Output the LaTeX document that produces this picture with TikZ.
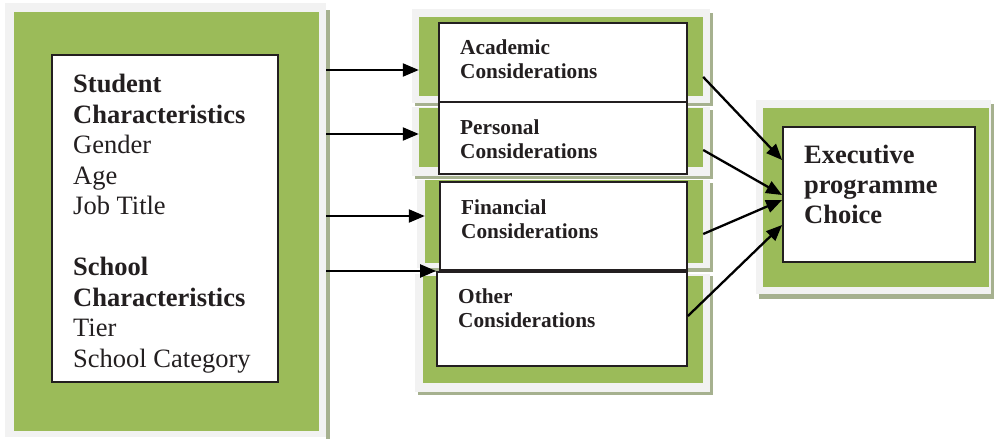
\documentclass[tikz,border=0pt]{standalone}
\usepackage{fontspec}
\setmainfont{Liberation Serif}
\usetikzlibrary{arrows.meta,fit}
\definecolor{panelgreen}{RGB}{155,187,89}
\definecolor{framegray}{RGB}{242,242,242}
\definecolor{shadowolive}{RGB}{166,177,143}
\definecolor{inkdark}{RGB}{35,31,32}

\begin{document}
\begin{tikzpicture}[x=1pt,y=-1pt,
    frame/.style={fill=framegray, inner sep=0pt},
    panel/.style={fill=panelgreen, inner sep=0pt},
    card/.style={draw=inkdark, line width=1.8pt, fill=white, inner sep=0pt},
    bigtext/.style={font=\fontsize{26.5}{30.5}\selectfont, text=inkdark, align=left, anchor=base west, inner sep=0pt},
    smalltext/.style={font=\bfseries\fontsize{21.3}{24}\selectfont, text=inkdark, align=left, anchor=base west, inner sep=0pt},
    arr/.style={line width=2.3pt, -{Triangle[length=16pt,width=13pt]}}]
  \useasboundingbox (0,0) rectangle (994,439);

  % Student / school block
  \fill[shadowolive] (326,10) rectangle (329.5,439);
  \node[frame, fit={(5,3)(326,437)}] (stuf) {};
  \node[panel, fit={(14,12)(319,431)}] (stug) {};
  \node[card, fit={(52,55)(278,382)}] (stuc) {};
  % (base = last line)
  \node[bigtext] (stut) at (73,367) {\textbf{Student}\\ \textbf{Characteristics}\\ Gender\\ Age\\ Job Title\\[30.5pt] \textbf{School}\\ \textbf{Characteristics}\\ Tier\\ School Category};

  % Academic
  \fill[shadowolive] (415,13) rectangle (713,106);
  \node[frame, fit={(412,9)(710,103)}] (acaf) {};
  \node[panel, fit={(419,17)(703,96)}] (acag) {};
  % Personal
  \fill[shadowolive] (415,110) rectangle (713,179);
  \node[frame, fit={(412,107)(710,176)}] (perf) {};
  \node[panel, fit={(419,108)(703,167)}] (perg) {};
  % Financial
  \fill[shadowolive] (420,183) rectangle (713,272);
  \node[frame, fit={(417,180)(710,268)}] (finf) {};
  \node[panel, fit={(425,180)(703,263)}] (fing) {};
  % Other
  \fill[shadowolive] (418,276) rectangle (713,395);
  \node[frame, fit={(415,274)(710,392)}] (othf) {};
  \node[panel, fit={(423,276)(703,383)}] (othg) {};

  % Consideration cards
  \node[card, fit={(439,23)(687,102)}] (acac) {};
  \node[card, fit={(439,102)(687,174)}] (perc) {};
  \node[card, fit={(440,182)(687,270)}] (finc) {};
  \node[card, fit={(437,272)(687,366)}] (othc) {};
  \node[smalltext] (acat) at (460,78) {Academic\\Considerations};
  \node[smalltext] (pert) at (460,158) {Personal\\Considerations};
  \node[smalltext] (fint) at (461,238) {Financial\\Considerations};
  \node[smalltext] (otht) at (458,327) {Other\\Considerations};

  % Executive programme choice
  \fill[shadowolive] (759,104) rectangle (995,299);
  \node[frame, fit={(756,100)(991,294)}] (exef) {};
  \node[panel, fit={(763,108)(989,287)}] (exeg) {};
  \node[card, fit={(783,127)(975,262)}] (exec) {};
  \node[bigtext, font=\bfseries\fontsize{26.5}{30}\selectfont] (exet) at (804,223) {Executive\\programme\\Choice};

  % Arrow levels
  \coordinate (l1) at (0,70);
  \coordinate (l2) at (0,134);
  \coordinate (l3) at (0,216);
  \coordinate (l4) at (0,271);
  \coordinate (r1) at (0,77);
  \coordinate (r2) at (0,150);
  \coordinate (r3) at (0,234);
  \coordinate (r4) at (0,316);
  \coordinate (h1) at (0,160);
  \coordinate (h2) at (0,195);
  \coordinate (h3) at (0,200);
  \coordinate (h4) at (0,225);

  % Inputs
  \draw[arr] (stuf.east |- l1) -- (acag.west |- l1);
  \draw[arr] (stuf.east |- l2) -- (perg.west |- l2);
  \draw[arr] (stuf.east |- l3) -- (fing.west |- l3);
  \draw[arr] (stuf.east |- l4) -- (othc.west |- l4);

  % Outputs
  \draw[arr] (acag.east |- r1) -- (exec.west |- h1);
  \draw[arr] (perg.east |- r2) -- (exec.west |- h2);
  \draw[arr] (fing.east |- r3) -- (exec.west |- h3);
  \draw[arr] (othc.east |- r4) -- (exec.west |- h4);
\end{tikzpicture}
\end{document}
